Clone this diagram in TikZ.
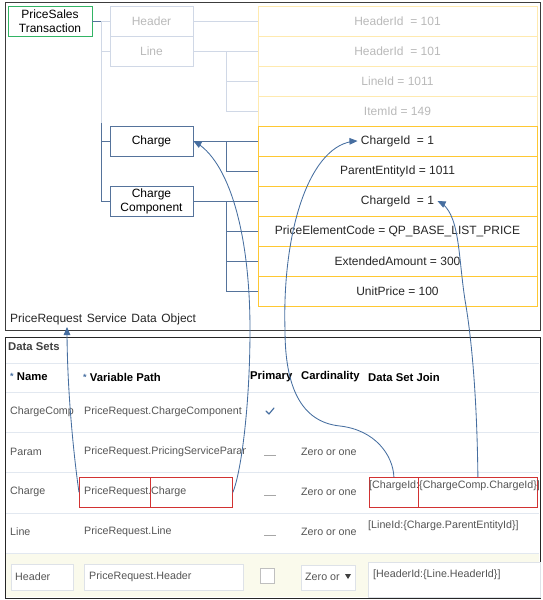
\documentclass[tikz,border=0pt]{standalone}
\usepackage{fontspec}
\setmainfont{Liberation Sans}
\usepackage{tikz}
\usetikzlibrary{arrows}
\definecolor{arrowblue}{RGB}{70,110,160}
\definecolor{treeblue}{RGB}{85,115,155}
\definecolor{treelight}{RGB}{208,216,230}
\definecolor{ygold}{RGB}{255,200,50}
\definecolor{ylight}{RGB}{255,234,175}
\definecolor{fadetext}{RGB}{185,185,185}
\definecolor{tabletext}{RGB}{85,85,85}
\definecolor{rowline}{RGB}{226,232,240}
\definecolor{greenedge}{RGB}{50,180,100}
\definecolor{redbox}{RGB}{210,50,50}
\definecolor{beige}{RGB}{250,250,236}
\definecolor{fieldedge}{RGB}{222,226,232}
\definecolor{panelgray}{RGB}{60,60,60}

\begin{document}
\begin{tikzpicture}[x=1pt,y=-1pt,>=triangle 45,
    every node/.style={inner sep=0pt},
    tbox/.style={draw=treeblue,line width=0.8pt,minimum width=83pt,minimum height=30pt,align=center,font=\fontsize{12}{14}\selectfont},
    tfaded/.style={tbox,draw=treelight,text=fadetext},
    rowbox/.style={draw=ygold,line width=0.8pt,minimum width=279pt,minimum height=30pt,font=\fontsize{12}{14}\selectfont,text=black!85},
    rowfaded/.style={rowbox,draw=ylight,text=fadetext},
    conn/.style={treeblue,line width=0.8pt},
    connfaded/.style={treelight,line width=0.8pt},
    link/.style={->,arrowblue,line width=0.85pt},
    cell/.style={anchor=west,font=\fontsize{10.7}{12}\selectfont,text=tabletext},
    head/.style={anchor=west,font=\fontsize{11.3}{12}\selectfont\bfseries},
    redframe/.style={draw=redbox,line width=0.8pt,minimum height=30pt,anchor=north west},
    field/.style={draw=fieldedge,fill=white,line width=0.7pt,anchor=north west},
    sep/.style={rowline,line width=0.8pt},
    dashmark/.style={black!35,line width=0.8pt}]
  \useasboundingbox (0,0) rectangle (542,600);

  % object panel
  \draw[panelgray,line width=1pt] (5,2) rectangle (540,330);
  \node[draw=greenedge,line width=0.8pt,minimum width=84pt,minimum height=30pt,align=center,
        font=\fontsize{12}{14}\selectfont] (trans) at (50,21) {PriceSales\\Transaction};
  \node[tfaded] (header) at (151.5,21) {Header};
  \node[tfaded] (lineobj) at (151.5,51) {Line};
  \node[tbox] (charge) at (151.5,141) {Charge};
  \node[tbox] (chcomp) at (151.5,201) {Charge\\Component};

  \node[rowfaded] (hdrid) at (397.5,21) {HeaderId \ = 101};
  \node[rowfaded] (hdrid2) at (397.5,51) {HeaderId \ = 101};
  \node[rowfaded] (lineid) at (397.5,81) {LineId = 1011};
  \node[rowfaded] (itemid) at (397.5,111) {ItemId = 149};
  \node[rowbox] (chgid) at (397.5,141) {ChargeId \ = 1};
  \node[rowbox] (parentid) at (397.5,171) {ParentEntityId = 1011};
  \node[rowbox] (chgid2) at (397.5,201) {ChargeId \ = 1};
  \node[rowbox] (pecode) at (397.5,231) {PriceElementCode = QP\_BASE\_LIST\_PRICE};
  \node[rowbox] (extamt) at (397.5,261) {ExtendedAmount = 300};
  \node[rowbox] (unitprice) at (397.5,291) {UnitPrice = 100};

  \coordinate (spine) at (101,21);
  \coordinate (spinemid) at (101,123);
  \coordinate (linesplit) at (226,51);
  \coordinate (chargesplit) at (226,141);
  \coordinate (compsplit) at (226,201);
  \draw[conn] (trans.east) -- (spine);
  \draw[connfaded] (spine) -- (header.west);
  \draw[connfaded] (spine) -- (spinemid);
  \draw[connfaded] (spine |- lineobj.west) -- (lineobj.west);
  \draw[conn] (spinemid) |- (charge.west);
  \draw[conn] (spinemid) |- (chcomp.west);
  \draw[connfaded] (header.east) -- (hdrid.west);
  \draw[connfaded] (lineobj.east) -- (hdrid2.west);
  \draw[connfaded] (linesplit) |- (lineid.west);
  \draw[connfaded] (linesplit) |- (itemid.west);
  \draw[conn] (charge.east) -- (chgid.west);
  \draw[conn] (chargesplit) |- (parentid.west);
  \draw[conn] (chcomp.east) -- (chgid2.west);
  \foreach \r in {pecode,extamt,unitprice}
    \draw[conn] (compsplit) |- (\r.west);

  \node[anchor=west,font=\fontsize{12}{14}\selectfont,text=black!85] (sdo) at (10,319)
    {PriceRequest\hspace{4.6pt}Service\hspace{4.6pt}Data\hspace{4.6pt}Object};
  \coordinate (sdotip) at (67,327);

  % data sets panel
  \fill[beige] (6,553) rectangle (539,597);
  \draw[black!85,line width=1pt] (5,337) rectangle (540,598);
  \node[head,text=black!75] (title) at (8,347) {Data Sets};
  \foreach \y in {363,392,432,472,513,553}
    \draw[sep] (6,\y) -- (539,\y);

  \node[head] (hname) at (10,377) {\textcolor{arrowblue}{\raisebox{1pt}{\fontsize{9}{9}\selectfont*}} Name};
  \node[head] (hpath) at (83,377) {\textcolor{arrowblue}{\raisebox{1pt}{\fontsize{9}{9}\selectfont*}} Variable Path};
  \node[head] (hprim) at (250,377) {Primary};
  \node[head] (hcard) at (301,377) {Cardinality};
  \node[head] (hjoin) at (368,377) {Data Set Join};

  \node[cell] (n1) at (10,412) {ChargeComp};
  \node[cell] (p1) at (84,412) {PriceRequest.ChargeComponent};
  \draw[arrowblue,line width=1.2pt,line cap=round,line join=round] (266,411) -- (269,414) -- (274,408);

  \node[cell] (n2) at (10,452) {Param};
  \begin{scope}
    \clip (80,440) rectangle (245,465);
    \node[cell] (p2) at (84,452) {PriceRequest.PricingServiceParam};
  \end{scope}
  \node[cell] (c2) at (301,452) {Zero or one};

  \node[cell] (n3) at (10,492) {Charge};
  \node[redframe,minimum width=71pt] (prb1) at (79,477) {};
  \node[redframe,minimum width=82pt] (prb2) at (150,477) {};
  \node[cell] (p3a) at (84,492) {PriceRequest.};
  \node[cell] (p3b) at (151,492) {Charge};
  \node[cell] (c3) at (301,492) {Zero or one};
  \node[redframe,minimum width=49pt] (jb1) at (369,477) {};
  \node[redframe,minimum width=119pt] (jb2) at (418,477) {};
  \node[cell] (j3a) at (369,486) {[ChargeId:};
  \node[cell] (j3b) at (419,486) {\{ChargeComp.ChargeId\}]};

  \node[cell] (n4) at (10,532) {Line};
  \node[cell] (p4) at (84,532) {PriceRequest.Line};
  \node[cell] (c4) at (301,532) {Zero or one};
  \node[cell] (j4) at (368,526) {[LineId:\{Charge.ParentEntityId\}]};

  \foreach \y in {455,495,535}
    \draw[dashmark] (264,\y) -- (276,\y);

  \node[field,minimum width=62pt,minimum height=26pt] (namefield) at (11,564) {};
  \node[cell] (n5) at (15,577) {Header};
  \node[field,minimum width=159pt,minimum height=26pt] (pathfield) at (84,564) {};
  \node[cell] (p5) at (89,577) {PriceRequest.Header};
  \node[field,draw=black!25,minimum width=14pt,minimum height=15pt] (primbox) at (260,568) {};
  \node[field,minimum width=54pt,minimum height=25pt] (cardfield) at (301,565) {};
  \node[cell] (c5) at (305,577) {Zero or};
  \fill[black!75] (345,574) -- (351,574) -- (348,579) -- cycle;
  \node[field,minimum width=172pt,minimum height=35pt] (joinfield) at (368,562) {};
  \node[cell] (j5) at (373,575) {[HeaderId:\{Line.HeaderId\}]};

  % links between the two panels
  \draw[link] (prb1.west) .. controls (76,472) and (67,400) .. (sdotip);
  \draw[link] (prb2.east) .. controls (242,470) and (250,400) .. (250,330)
    .. controls (250,230) and (228,160) .. (charge.east);
  \draw[link] (jb1.north) .. controls (393,455) and (375,430) .. (340,426)
    .. controls (300,422) and (285,385) .. (285,330)
    .. controls (282,230) and (310,143) .. ([xshift=-40pt]chgid.center);
  \draw[link] (jb2.north) .. controls (477,400) and (472,340) .. (465,300)
    .. controls (458,255) and (460,212) .. ([xshift=40pt]chgid2.center);
\end{tikzpicture}
\end{document}
